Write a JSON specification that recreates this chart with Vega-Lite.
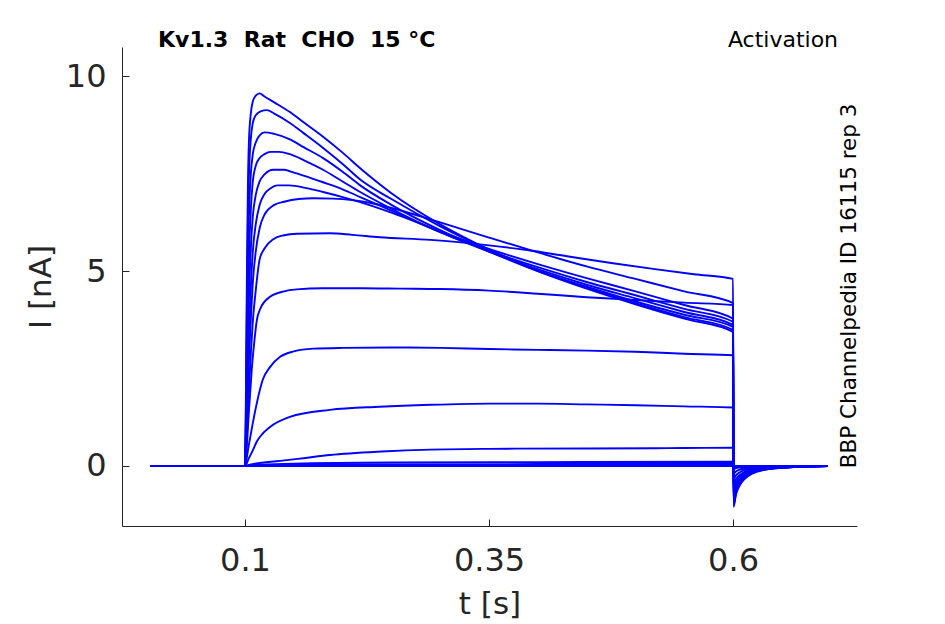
{
  "$schema": "https://vega.github.io/schema/vega-lite/v6.json",
  "width": 735,
  "height": 479,
  "autosize": {"type": "none"},
  "padding": {"left": 122, "top": 47, "right": 88, "bottom": 98},
  "datasets": {
    "traces": [
      {"trace": "A", "t": 0.003, "i": 0}, {"trace": "A", "t": 0.1, "i": 0}, {"trace": "A", "t": 0.1005, "i": 0.6}, {"trace": "A", "t": 0.101, "i": 2.0}, {"trace": "A", "t": 0.102, "i": 5.0}, {"trace": "A", "t": 0.103, "i": 7.2}, {"trace": "A", "t": 0.104, "i": 8.3}, {"trace": "A", "t": 0.106, "i": 9.05}, {"trace": "A", "t": 0.108, "i": 9.35}, {"trace": "A", "t": 0.111, "i": 9.5}, {"trace": "A", "t": 0.115, "i": 9.56}, {"trace": "A", "t": 0.12, "i": 9.48}, {"trace": "A", "t": 0.13, "i": 9.33}, {"trace": "A", "t": 0.146, "i": 9.08}, {"trace": "A", "t": 0.16, "i": 8.82}, {"trace": "A", "t": 0.18, "i": 8.45}, {"trace": "A", "t": 0.2, "i": 8.04}, {"trace": "A", "t": 0.218, "i": 7.64}, {"trace": "A", "t": 0.25, "i": 7.0}, {"trace": "A", "t": 0.3, "i": 6.2}, {"trace": "A", "t": 0.35, "i": 5.55}, {"trace": "A", "t": 0.4, "i": 5.0}, {"trace": "A", "t": 0.45, "i": 4.55}, {"trace": "A", "t": 0.5, "i": 4.15}, {"trace": "A", "t": 0.55, "i": 3.78}, {"trace": "A", "t": 0.6, "i": 3.44},
      {"trace": "A", "t": 0.6005, "i": -1.05}, {"trace": "A", "t": 0.603, "i": -0.735}, {"trace": "A", "t": 0.607, "i": -0.49}, {"trace": "A", "t": 0.612, "i": -0.33}, {"trace": "A", "t": 0.62, "i": -0.19}, {"trace": "A", "t": 0.632, "i": -0.1}, {"trace": "A", "t": 0.65, "i": -0.047}, {"trace": "A", "t": 0.67, "i": -0.021}, {"trace": "A", "t": 0.697, "i": -0.005},

      {"trace": "B", "t": 0.003, "i": 0}, {"trace": "B", "t": 0.1, "i": 0}, {"trace": "B", "t": 0.1005, "i": 0.5}, {"trace": "B", "t": 0.101, "i": 1.6}, {"trace": "B", "t": 0.102, "i": 4.2}, {"trace": "B", "t": 0.103, "i": 6.2}, {"trace": "B", "t": 0.104, "i": 7.4}, {"trace": "B", "t": 0.106, "i": 8.4}, {"trace": "B", "t": 0.108, "i": 8.8}, {"trace": "B", "t": 0.111, "i": 9.0}, {"trace": "B", "t": 0.116, "i": 9.1}, {"trace": "B", "t": 0.1225, "i": 9.13}, {"trace": "B", "t": 0.13, "i": 9.04}, {"trace": "B", "t": 0.146, "i": 8.8}, {"trace": "B", "t": 0.16, "i": 8.54}, {"trace": "B", "t": 0.18, "i": 8.16}, {"trace": "B", "t": 0.2, "i": 7.75}, {"trace": "B", "t": 0.218, "i": 7.35}, {"trace": "B", "t": 0.25, "i": 6.85}, {"trace": "B", "t": 0.3, "i": 6.15}, {"trace": "B", "t": 0.35, "i": 5.55}, {"trace": "B", "t": 0.4, "i": 5.02}, {"trace": "B", "t": 0.45, "i": 4.58}, {"trace": "B", "t": 0.5, "i": 4.18}, {"trace": "B", "t": 0.55, "i": 3.82}, {"trace": "B", "t": 0.6, "i": 3.49},
      {"trace": "B", "t": 0.6005, "i": -1.0}, {"trace": "B", "t": 0.603, "i": -0.7}, {"trace": "B", "t": 0.607, "i": -0.47}, {"trace": "B", "t": 0.612, "i": -0.31}, {"trace": "B", "t": 0.62, "i": -0.18}, {"trace": "B", "t": 0.632, "i": -0.095}, {"trace": "B", "t": 0.65, "i": -0.045}, {"trace": "B", "t": 0.67, "i": -0.02}, {"trace": "B", "t": 0.697, "i": -0.005},

      {"trace": "C", "t": 0.003, "i": 0}, {"trace": "C", "t": 0.1, "i": 0}, {"trace": "C", "t": 0.1005, "i": 0.4}, {"trace": "C", "t": 0.101, "i": 1.3}, {"trace": "C", "t": 0.102, "i": 3.4}, {"trace": "C", "t": 0.103, "i": 5.2}, {"trace": "C", "t": 0.104, "i": 6.4}, {"trace": "C", "t": 0.106, "i": 7.5}, {"trace": "C", "t": 0.108, "i": 8.0}, {"trace": "C", "t": 0.111, "i": 8.3}, {"trace": "C", "t": 0.115, "i": 8.48}, {"trace": "C", "t": 0.12, "i": 8.56}, {"trace": "C", "t": 0.13, "i": 8.52}, {"trace": "C", "t": 0.146, "i": 8.38}, {"trace": "C", "t": 0.16, "i": 8.18}, {"trace": "C", "t": 0.18, "i": 7.9}, {"trace": "C", "t": 0.2, "i": 7.55}, {"trace": "C", "t": 0.218, "i": 7.2}, {"trace": "C", "t": 0.25, "i": 6.7}, {"trace": "C", "t": 0.3, "i": 6.05}, {"trace": "C", "t": 0.35, "i": 5.5}, {"trace": "C", "t": 0.4, "i": 5.0}, {"trace": "C", "t": 0.45, "i": 4.6}, {"trace": "C", "t": 0.5, "i": 4.22}, {"trace": "C", "t": 0.55, "i": 3.88}, {"trace": "C", "t": 0.6, "i": 3.57},
      {"trace": "C", "t": 0.6005, "i": -0.95}, {"trace": "C", "t": 0.603, "i": -0.665}, {"trace": "C", "t": 0.607, "i": -0.45}, {"trace": "C", "t": 0.612, "i": -0.29}, {"trace": "C", "t": 0.62, "i": -0.17}, {"trace": "C", "t": 0.632, "i": -0.09}, {"trace": "C", "t": 0.65, "i": -0.043}, {"trace": "C", "t": 0.67, "i": -0.019}, {"trace": "C", "t": 0.697, "i": -0.005},

      {"trace": "D", "t": 0.003, "i": 0}, {"trace": "D", "t": 0.1, "i": 0}, {"trace": "D", "t": 0.1005, "i": 0.3}, {"trace": "D", "t": 0.101, "i": 1.0}, {"trace": "D", "t": 0.102, "i": 2.7}, {"trace": "D", "t": 0.103, "i": 4.2}, {"trace": "D", "t": 0.104, "i": 5.3}, {"trace": "D", "t": 0.106, "i": 6.6}, {"trace": "D", "t": 0.108, "i": 7.3}, {"trace": "D", "t": 0.111, "i": 7.7}, {"trace": "D", "t": 0.115, "i": 7.9}, {"trace": "D", "t": 0.12, "i": 8.0}, {"trace": "D", "t": 0.126, "i": 8.06}, {"trace": "D", "t": 0.135, "i": 8.06}, {"trace": "D", "t": 0.146, "i": 8.0}, {"trace": "D", "t": 0.16, "i": 7.85}, {"trace": "D", "t": 0.18, "i": 7.6}, {"trace": "D", "t": 0.2, "i": 7.3}, {"trace": "D", "t": 0.218, "i": 7.03}, {"trace": "D", "t": 0.25, "i": 6.6}, {"trace": "D", "t": 0.3, "i": 6.0}, {"trace": "D", "t": 0.35, "i": 5.5}, {"trace": "D", "t": 0.4, "i": 5.05}, {"trace": "D", "t": 0.45, "i": 4.65}, {"trace": "D", "t": 0.5, "i": 4.3}, {"trace": "D", "t": 0.55, "i": 3.95}, {"trace": "D", "t": 0.6, "i": 3.62},
      {"trace": "D", "t": 0.6005, "i": -0.9}, {"trace": "D", "t": 0.603, "i": -0.63}, {"trace": "D", "t": 0.607, "i": -0.42}, {"trace": "D", "t": 0.612, "i": -0.28}, {"trace": "D", "t": 0.62, "i": -0.16}, {"trace": "D", "t": 0.632, "i": -0.085}, {"trace": "D", "t": 0.65, "i": -0.04}, {"trace": "D", "t": 0.67, "i": -0.018}, {"trace": "D", "t": 0.697, "i": -0.004},

      {"trace": "E", "t": 0.003, "i": 0}, {"trace": "E", "t": 0.1, "i": 0}, {"trace": "E", "t": 0.1005, "i": 0.25}, {"trace": "E", "t": 0.101, "i": 0.8}, {"trace": "E", "t": 0.102, "i": 2.1}, {"trace": "E", "t": 0.103, "i": 3.3}, {"trace": "E", "t": 0.104, "i": 4.3}, {"trace": "E", "t": 0.106, "i": 5.6}, {"trace": "E", "t": 0.108, "i": 6.4}, {"trace": "E", "t": 0.111, "i": 6.95}, {"trace": "E", "t": 0.115, "i": 7.3}, {"trace": "E", "t": 0.12, "i": 7.48}, {"trace": "E", "t": 0.129, "i": 7.6}, {"trace": "E", "t": 0.14, "i": 7.6}, {"trace": "E", "t": 0.146, "i": 7.56}, {"trace": "E", "t": 0.16, "i": 7.45}, {"trace": "E", "t": 0.18, "i": 7.28}, {"trace": "E", "t": 0.2, "i": 7.1}, {"trace": "E", "t": 0.218, "i": 6.9}, {"trace": "E", "t": 0.25, "i": 6.55}, {"trace": "E", "t": 0.3, "i": 6.0}, {"trace": "E", "t": 0.35, "i": 5.52}, {"trace": "E", "t": 0.4, "i": 5.1}, {"trace": "E", "t": 0.45, "i": 4.72}, {"trace": "E", "t": 0.5, "i": 4.38}, {"trace": "E", "t": 0.55, "i": 4.03}, {"trace": "E", "t": 0.6, "i": 3.7},
      {"trace": "E", "t": 0.6005, "i": -0.85}, {"trace": "E", "t": 0.603, "i": -0.6}, {"trace": "E", "t": 0.607, "i": -0.4}, {"trace": "E", "t": 0.612, "i": -0.26}, {"trace": "E", "t": 0.62, "i": -0.15}, {"trace": "E", "t": 0.632, "i": -0.08}, {"trace": "E", "t": 0.65, "i": -0.038}, {"trace": "E", "t": 0.67, "i": -0.017}, {"trace": "E", "t": 0.697, "i": -0.004},

      {"trace": "F", "t": 0.003, "i": 0}, {"trace": "F", "t": 0.1, "i": 0}, {"trace": "F", "t": 0.1005, "i": 0.2}, {"trace": "F", "t": 0.101, "i": 0.6}, {"trace": "F", "t": 0.102, "i": 1.6}, {"trace": "F", "t": 0.103, "i": 2.6}, {"trace": "F", "t": 0.104, "i": 3.4}, {"trace": "F", "t": 0.106, "i": 4.6}, {"trace": "F", "t": 0.108, "i": 5.5}, {"trace": "F", "t": 0.111, "i": 6.2}, {"trace": "F", "t": 0.115, "i": 6.7}, {"trace": "F", "t": 0.12, "i": 6.98}, {"trace": "F", "t": 0.126, "i": 7.12}, {"trace": "F", "t": 0.133, "i": 7.2}, {"trace": "F", "t": 0.145, "i": 7.2}, {"trace": "F", "t": 0.163, "i": 7.13}, {"trace": "F", "t": 0.18, "i": 7.03}, {"trace": "F", "t": 0.2, "i": 6.9}, {"trace": "F", "t": 0.218, "i": 6.77}, {"trace": "F", "t": 0.25, "i": 6.5}, {"trace": "F", "t": 0.3, "i": 6.02}, {"trace": "F", "t": 0.35, "i": 5.57}, {"trace": "F", "t": 0.4, "i": 5.18}, {"trace": "F", "t": 0.45, "i": 4.82}, {"trace": "F", "t": 0.5, "i": 4.48}, {"trace": "F", "t": 0.55, "i": 4.13}, {"trace": "F", "t": 0.6, "i": 3.78},
      {"trace": "F", "t": 0.6005, "i": -0.8}, {"trace": "F", "t": 0.603, "i": -0.56}, {"trace": "F", "t": 0.607, "i": -0.38}, {"trace": "F", "t": 0.612, "i": -0.25}, {"trace": "F", "t": 0.62, "i": -0.145}, {"trace": "F", "t": 0.632, "i": -0.076}, {"trace": "F", "t": 0.65, "i": -0.036}, {"trace": "F", "t": 0.67, "i": -0.016}, {"trace": "F", "t": 0.697, "i": -0.004},

      {"trace": "G", "t": 0.003, "i": 0}, {"trace": "G", "t": 0.1, "i": 0}, {"trace": "G", "t": 0.1005, "i": 0.15}, {"trace": "G", "t": 0.101, "i": 0.45}, {"trace": "G", "t": 0.102, "i": 1.2}, {"trace": "G", "t": 0.103, "i": 2.0}, {"trace": "G", "t": 0.104, "i": 2.7}, {"trace": "G", "t": 0.106, "i": 3.8}, {"trace": "G", "t": 0.108, "i": 4.7}, {"trace": "G", "t": 0.111, "i": 5.5}, {"trace": "G", "t": 0.115, "i": 6.1}, {"trace": "G", "t": 0.12, "i": 6.45}, {"trace": "G", "t": 0.13, "i": 6.7}, {"trace": "G", "t": 0.14, "i": 6.78}, {"trace": "G", "t": 0.155, "i": 6.85}, {"trace": "G", "t": 0.17, "i": 6.87}, {"trace": "G", "t": 0.19, "i": 6.86}, {"trace": "G", "t": 0.21, "i": 6.82}, {"trace": "G", "t": 0.23, "i": 6.74}, {"trace": "G", "t": 0.25, "i": 6.62}, {"trace": "G", "t": 0.3, "i": 6.25}, {"trace": "G", "t": 0.35, "i": 5.86}, {"trace": "G", "t": 0.4, "i": 5.48}, {"trace": "G", "t": 0.45, "i": 5.12}, {"trace": "G", "t": 0.5, "i": 4.8}, {"trace": "G", "t": 0.55, "i": 4.48}, {"trace": "G", "t": 0.6, "i": 4.18},
      {"trace": "G", "t": 0.6005, "i": -0.72}, {"trace": "G", "t": 0.603, "i": -0.5}, {"trace": "G", "t": 0.607, "i": -0.34}, {"trace": "G", "t": 0.612, "i": -0.22}, {"trace": "G", "t": 0.62, "i": -0.13}, {"trace": "G", "t": 0.632, "i": -0.068}, {"trace": "G", "t": 0.65, "i": -0.032}, {"trace": "G", "t": 0.67, "i": -0.014}, {"trace": "G", "t": 0.697, "i": -0.004},

      {"trace": "H", "t": 0.003, "i": 0}, {"trace": "H", "t": 0.1, "i": 0}, {"trace": "H", "t": 0.1005, "i": 0.1}, {"trace": "H", "t": 0.101, "i": 0.3}, {"trace": "H", "t": 0.102, "i": 0.8}, {"trace": "H", "t": 0.103, "i": 1.35}, {"trace": "H", "t": 0.104, "i": 1.9}, {"trace": "H", "t": 0.106, "i": 2.9}, {"trace": "H", "t": 0.108, "i": 3.7}, {"trace": "H", "t": 0.111, "i": 4.5}, {"trace": "H", "t": 0.115, "i": 5.3}, {"trace": "H", "t": 0.12, "i": 5.58}, {"trace": "H", "t": 0.129, "i": 5.82}, {"trace": "H", "t": 0.14, "i": 5.92}, {"trace": "H", "t": 0.153, "i": 5.96}, {"trace": "H", "t": 0.187, "i": 5.97}, {"trace": "H", "t": 0.21, "i": 5.93}, {"trace": "H", "t": 0.238, "i": 5.87}, {"trace": "H", "t": 0.29, "i": 5.8}, {"trace": "H", "t": 0.35, "i": 5.66}, {"trace": "H", "t": 0.389, "i": 5.54}, {"trace": "H", "t": 0.43, "i": 5.38}, {"trace": "H", "t": 0.477, "i": 5.2}, {"trace": "H", "t": 0.52, "i": 5.05}, {"trace": "H", "t": 0.56, "i": 4.92}, {"trace": "H", "t": 0.6, "i": 4.8},
      {"trace": "H", "t": 0.6005, "i": -0.6}, {"trace": "H", "t": 0.603, "i": -0.42}, {"trace": "H", "t": 0.607, "i": -0.28}, {"trace": "H", "t": 0.612, "i": -0.19}, {"trace": "H", "t": 0.62, "i": -0.11}, {"trace": "H", "t": 0.632, "i": -0.057}, {"trace": "H", "t": 0.65, "i": -0.027}, {"trace": "H", "t": 0.67, "i": -0.012}, {"trace": "H", "t": 0.697, "i": -0.003},

      {"trace": "I", "t": 0.003, "i": 0}, {"trace": "I", "t": 0.1, "i": 0}, {"trace": "I", "t": 0.1005, "i": 0.05}, {"trace": "I", "t": 0.102, "i": 0.55}, {"trace": "I", "t": 0.104, "i": 1.4}, {"trace": "I", "t": 0.107, "i": 2.5}, {"trace": "I", "t": 0.11, "i": 3.3}, {"trace": "I", "t": 0.112, "i": 3.72}, {"trace": "I", "t": 0.116, "i": 4.05}, {"trace": "I", "t": 0.1256, "i": 4.34}, {"trace": "I", "t": 0.14, "i": 4.48}, {"trace": "I", "t": 0.153, "i": 4.53}, {"trace": "I", "t": 0.18, "i": 4.56}, {"trace": "I", "t": 0.22, "i": 4.56}, {"trace": "I", "t": 0.26, "i": 4.55}, {"trace": "I", "t": 0.3, "i": 4.54}, {"trace": "I", "t": 0.35, "i": 4.5}, {"trace": "I", "t": 0.4, "i": 4.42}, {"trace": "I", "t": 0.45, "i": 4.33}, {"trace": "I", "t": 0.5, "i": 4.26}, {"trace": "I", "t": 0.55, "i": 4.19}, {"trace": "I", "t": 0.6, "i": 4.13},
      {"trace": "I", "t": 0.6005, "i": -0.48}, {"trace": "I", "t": 0.603, "i": -0.34}, {"trace": "I", "t": 0.607, "i": -0.23}, {"trace": "I", "t": 0.612, "i": -0.15}, {"trace": "I", "t": 0.62, "i": -0.086}, {"trace": "I", "t": 0.632, "i": -0.046}, {"trace": "I", "t": 0.65, "i": -0.022}, {"trace": "I", "t": 0.67, "i": -0.01}, {"trace": "I", "t": 0.697, "i": -0.002},

      {"trace": "J", "t": 0.003, "i": 0}, {"trace": "J", "t": 0.1, "i": 0}, {"trace": "J", "t": 0.101, "i": 0.1}, {"trace": "J", "t": 0.104, "i": 0.55}, {"trace": "J", "t": 0.108, "i": 1.1}, {"trace": "J", "t": 0.112, "i": 1.6}, {"trace": "J", "t": 0.118, "i": 2.2}, {"trace": "J", "t": 0.126, "i": 2.55}, {"trace": "J", "t": 0.136, "i": 2.8}, {"trace": "J", "t": 0.15, "i": 2.94}, {"trace": "J", "t": 0.17, "i": 3.01}, {"trace": "J", "t": 0.2, "i": 3.03}, {"trace": "J", "t": 0.25, "i": 3.04}, {"trace": "J", "t": 0.3, "i": 3.03}, {"trace": "J", "t": 0.35, "i": 3.0}, {"trace": "J", "t": 0.4, "i": 2.98}, {"trace": "J", "t": 0.45, "i": 2.96}, {"trace": "J", "t": 0.5, "i": 2.93}, {"trace": "J", "t": 0.55, "i": 2.88}, {"trace": "J", "t": 0.6, "i": 2.84},
      {"trace": "J", "t": 0.6005, "i": -0.34}, {"trace": "J", "t": 0.603, "i": -0.24}, {"trace": "J", "t": 0.607, "i": -0.16}, {"trace": "J", "t": 0.612, "i": -0.105}, {"trace": "J", "t": 0.62, "i": -0.061}, {"trace": "J", "t": 0.632, "i": -0.032}, {"trace": "J", "t": 0.65, "i": -0.015}, {"trace": "J", "t": 0.67, "i": -0.007}, {"trace": "J", "t": 0.697, "i": -0.002},

      {"trace": "K", "t": 0.003, "i": 0}, {"trace": "K", "t": 0.1, "i": 0}, {"trace": "K", "t": 0.104, "i": 0.2}, {"trace": "K", "t": 0.108, "i": 0.4}, {"trace": "K", "t": 0.112, "i": 0.62}, {"trace": "K", "t": 0.1154, "i": 0.75}, {"trace": "K", "t": 0.1256, "i": 1.0}, {"trace": "K", "t": 0.146, "i": 1.26}, {"trace": "K", "t": 0.187, "i": 1.44}, {"trace": "K", "t": 0.238, "i": 1.52}, {"trace": "K", "t": 0.29, "i": 1.57}, {"trace": "K", "t": 0.35, "i": 1.6}, {"trace": "K", "t": 0.4, "i": 1.6}, {"trace": "K", "t": 0.45, "i": 1.58}, {"trace": "K", "t": 0.5, "i": 1.56}, {"trace": "K", "t": 0.55, "i": 1.53}, {"trace": "K", "t": 0.6, "i": 1.5},
      {"trace": "K", "t": 0.6005, "i": -0.2}, {"trace": "K", "t": 0.603, "i": -0.14}, {"trace": "K", "t": 0.607, "i": -0.094}, {"trace": "K", "t": 0.612, "i": -0.062}, {"trace": "K", "t": 0.62, "i": -0.036}, {"trace": "K", "t": 0.632, "i": -0.019}, {"trace": "K", "t": 0.65, "i": -0.009}, {"trace": "K", "t": 0.67, "i": -0.004}, {"trace": "K", "t": 0.697, "i": -0.001},

      {"trace": "L", "t": 0.003, "i": 0}, {"trace": "L", "t": 0.1, "i": 0}, {"trace": "L", "t": 0.104, "i": 0.03}, {"trace": "L", "t": 0.11, "i": 0.06}, {"trace": "L", "t": 0.136, "i": 0.13}, {"trace": "L", "t": 0.16, "i": 0.2}, {"trace": "L", "t": 0.187, "i": 0.28}, {"trace": "L", "t": 0.24, "i": 0.37}, {"trace": "L", "t": 0.29, "i": 0.42}, {"trace": "L", "t": 0.35, "i": 0.44}, {"trace": "L", "t": 0.45, "i": 0.45}, {"trace": "L", "t": 0.55, "i": 0.46}, {"trace": "L", "t": 0.6, "i": 0.47},
      {"trace": "L", "t": 0.6005, "i": -0.08}, {"trace": "L", "t": 0.603, "i": -0.056}, {"trace": "L", "t": 0.607, "i": -0.038}, {"trace": "L", "t": 0.612, "i": -0.025}, {"trace": "L", "t": 0.62, "i": -0.014}, {"trace": "L", "t": 0.632, "i": -0.008}, {"trace": "L", "t": 0.65, "i": -0.004}, {"trace": "L", "t": 0.67, "i": -0.002}, {"trace": "L", "t": 0.697, "i": 0},

      {"trace": "M", "t": 0.003, "i": 0}, {"trace": "M", "t": 0.1, "i": 0}, {"trace": "M", "t": 0.3, "i": 0}, {"trace": "M", "t": 0.6, "i": 0}, {"trace": "M", "t": 0.6005, "i": 0}, {"trace": "M", "t": 0.697, "i": 0},

      {"trace": "N", "t": 0.003, "i": 0}, {"trace": "N", "t": 0.1, "i": 0}, {"trace": "N", "t": 0.11, "i": 0.01}, {"trace": "N", "t": 0.2, "i": 0.02}, {"trace": "N", "t": 0.4, "i": 0.02}, {"trace": "N", "t": 0.6, "i": 0.02}, {"trace": "N", "t": 0.6005, "i": -0.01}, {"trace": "N", "t": 0.62, "i": 0}, {"trace": "N", "t": 0.697, "i": 0},

      {"trace": "O", "t": 0.003, "i": 0}, {"trace": "O", "t": 0.1, "i": 0}, {"trace": "O", "t": 0.11, "i": 0.02}, {"trace": "O", "t": 0.2, "i": 0.04}, {"trace": "O", "t": 0.4, "i": 0.05}, {"trace": "O", "t": 0.6, "i": 0.05}, {"trace": "O", "t": 0.6005, "i": -0.02}, {"trace": "O", "t": 0.612, "i": -0.006}, {"trace": "O", "t": 0.632, "i": -0.002}, {"trace": "O", "t": 0.697, "i": 0},

      {"trace": "P", "t": 0.003, "i": 0}, {"trace": "P", "t": 0.1, "i": 0}, {"trace": "P", "t": 0.11, "i": 0.03}, {"trace": "P", "t": 0.15, "i": 0.06}, {"trace": "P", "t": 0.25, "i": 0.09}, {"trace": "P", "t": 0.4, "i": 0.1}, {"trace": "P", "t": 0.6, "i": 0.11}, {"trace": "P", "t": 0.6005, "i": -0.04}, {"trace": "P", "t": 0.607, "i": -0.019}, {"trace": "P", "t": 0.62, "i": -0.007}, {"trace": "P", "t": 0.65, "i": -0.002}, {"trace": "P", "t": 0.697, "i": 0}
    ],
    "labels": [
      {"kind": "title", "t": 0.0109, "i": 10.75, "text": "Kv1.3\u00a0 Rat\u00a0 CHO\u00a0 15 °C"},
      {"kind": "protocol", "t": 0.7076, "i": 10.75, "text": "Activation"},
      {"kind": "source", "t": 0.7199, "i": 4.62, "text": "BBP Channelpedia ID 16115 rep 3"}
    ]
  },
  "encoding": {
    "x": {
      "field": "t",
      "type": "quantitative",
      "title": "t [s]",
      "scale": {"domain": [-0.026, 0.727], "nice": false, "zero": false},
      "axis": {"values": [0.1, 0.35, 0.6], "labelExpr": "'' + datum.value", "labelPadding": 26, "titlePadding": 13}
    },
    "y": {
      "field": "i",
      "type": "quantitative",
      "title": "I [nA]",
      "scale": {"domain": [-1.54, 10.75], "nice": false, "zero": false},
      "axis": {"values": [0, 5, 10], "labelPadding": 23, "titlePadding": 8}
    }
  },
  "layer": [
    {
      "data": {"name": "traces"},
      "mark": {"type": "line", "color": "#0000ff", "strokeWidth": 1.9, "interpolate": "monotone", "clip": true},
      "encoding": {
        "detail": {"field": "trace", "type": "nominal"},
        "order": {"field": "t", "type": "quantitative"}
      }
    },
    {
      "data": {"name": "labels"},
      "transform": [{"filter": "datum.kind == 'title'"}],
      "mark": {"type": "text", "align": "left", "baseline": "alphabetic", "font": "DejaVu Sans", "fontSize": 22, "fontWeight": "bold", "color": "#000000"},
      "encoding": {"text": {"field": "text"}}
    },
    {
      "data": {"name": "labels"},
      "transform": [{"filter": "datum.kind == 'protocol'"}],
      "mark": {"type": "text", "align": "right", "baseline": "alphabetic", "font": "DejaVu Sans", "fontSize": 22, "color": "#000000"},
      "encoding": {"text": {"field": "text"}}
    },
    {
      "data": {"name": "labels"},
      "transform": [{"filter": "datum.kind == 'source'"}],
      "mark": {"type": "text", "align": "center", "baseline": "middle", "angle": 270, "font": "DejaVu Sans", "fontSize": 21.5, "color": "#000000"},
      "encoding": {"text": {"field": "text"}}
    }
  ],
  "config": {
    "view": {"stroke": null},
    "axis": {
      "grid": false,
      "domainColor": "#262626",
      "tickColor": "#262626",
      "tickSize": -7,
      "labelColor": "#262626",
      "titleColor": "#262626",
      "labelFont": "DejaVu Sans",
      "titleFont": "DejaVu Sans",
      "labelFontSize": 32,
      "titleFontSize": 31,
      "titleFontWeight": "normal"
    }
  }
}
